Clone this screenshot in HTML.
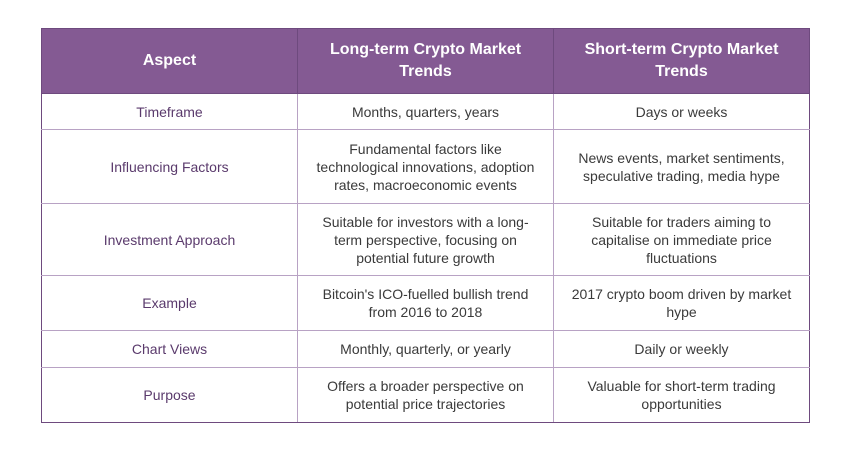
<!DOCTYPE html>
<html><head><style>
html,body{margin:0;padding:0;background:#fff;width:850px;height:450px;overflow:hidden}
table{position:absolute;left:41px;top:28px;border-collapse:collapse;font-family:"Liberation Sans",sans-serif;table-layout:fixed}
td,th{border:1px solid #b8a2c4;text-align:center;vertical-align:middle;padding:0 6px;line-height:18px;font-size:14px;color:#3a3a3a;white-space:nowrap}
th{background:#845a93;color:#fff;font-size:16px;font-weight:bold;line-height:22px;border-color:#6e4a7e;height:64px}
td:first-child{color:#5a3a6c;border-left:1px solid #6e4a7e}
td:last-child{border-right:1px solid #6e4a7e}
tr:last-child td{border-bottom:1px solid #6e4a7e}
</style></head><body>
<table>
<colgroup><col style="width:256px"><col style="width:256px"><col style="width:256px"></colgroup>
<tr><th>Aspect</th><th>Long-term Crypto Market<br>Trends</th><th>Short-term Crypto Market<br>Trends</th></tr>
<tr style="height:36px"><td>Timeframe</td><td>Months, quarters, years</td><td>Days or weeks</td></tr>
<tr style="height:74px"><td>Influencing Factors</td><td>Fundamental factors like<br>technological innovations, adoption<br>rates, macroeconomic events</td><td>News events, market sentiments,<br>speculative trading, media hype</td></tr>
<tr style="height:72px"><td>Investment Approach</td><td>Suitable for investors with a long-<br>term perspective, focusing on<br>potential future growth</td><td>Suitable for traders aiming to<br>capitalise on immediate price<br>fluctuations</td></tr>
<tr style="height:55px"><td>Example</td><td>Bitcoin's ICO-fuelled bullish trend<br>from 2016 to 2018</td><td>2017 crypto boom driven by market<br>hype</td></tr>
<tr style="height:37px"><td>Chart Views</td><td>Monthly, quarterly, or yearly</td><td>Daily or weekly</td></tr>
<tr style="height:55px"><td>Purpose</td><td>Offers a broader perspective on<br>potential price trajectories</td><td>Valuable for short-term trading<br>opportunities</td></tr>
</table>
</body></html>
